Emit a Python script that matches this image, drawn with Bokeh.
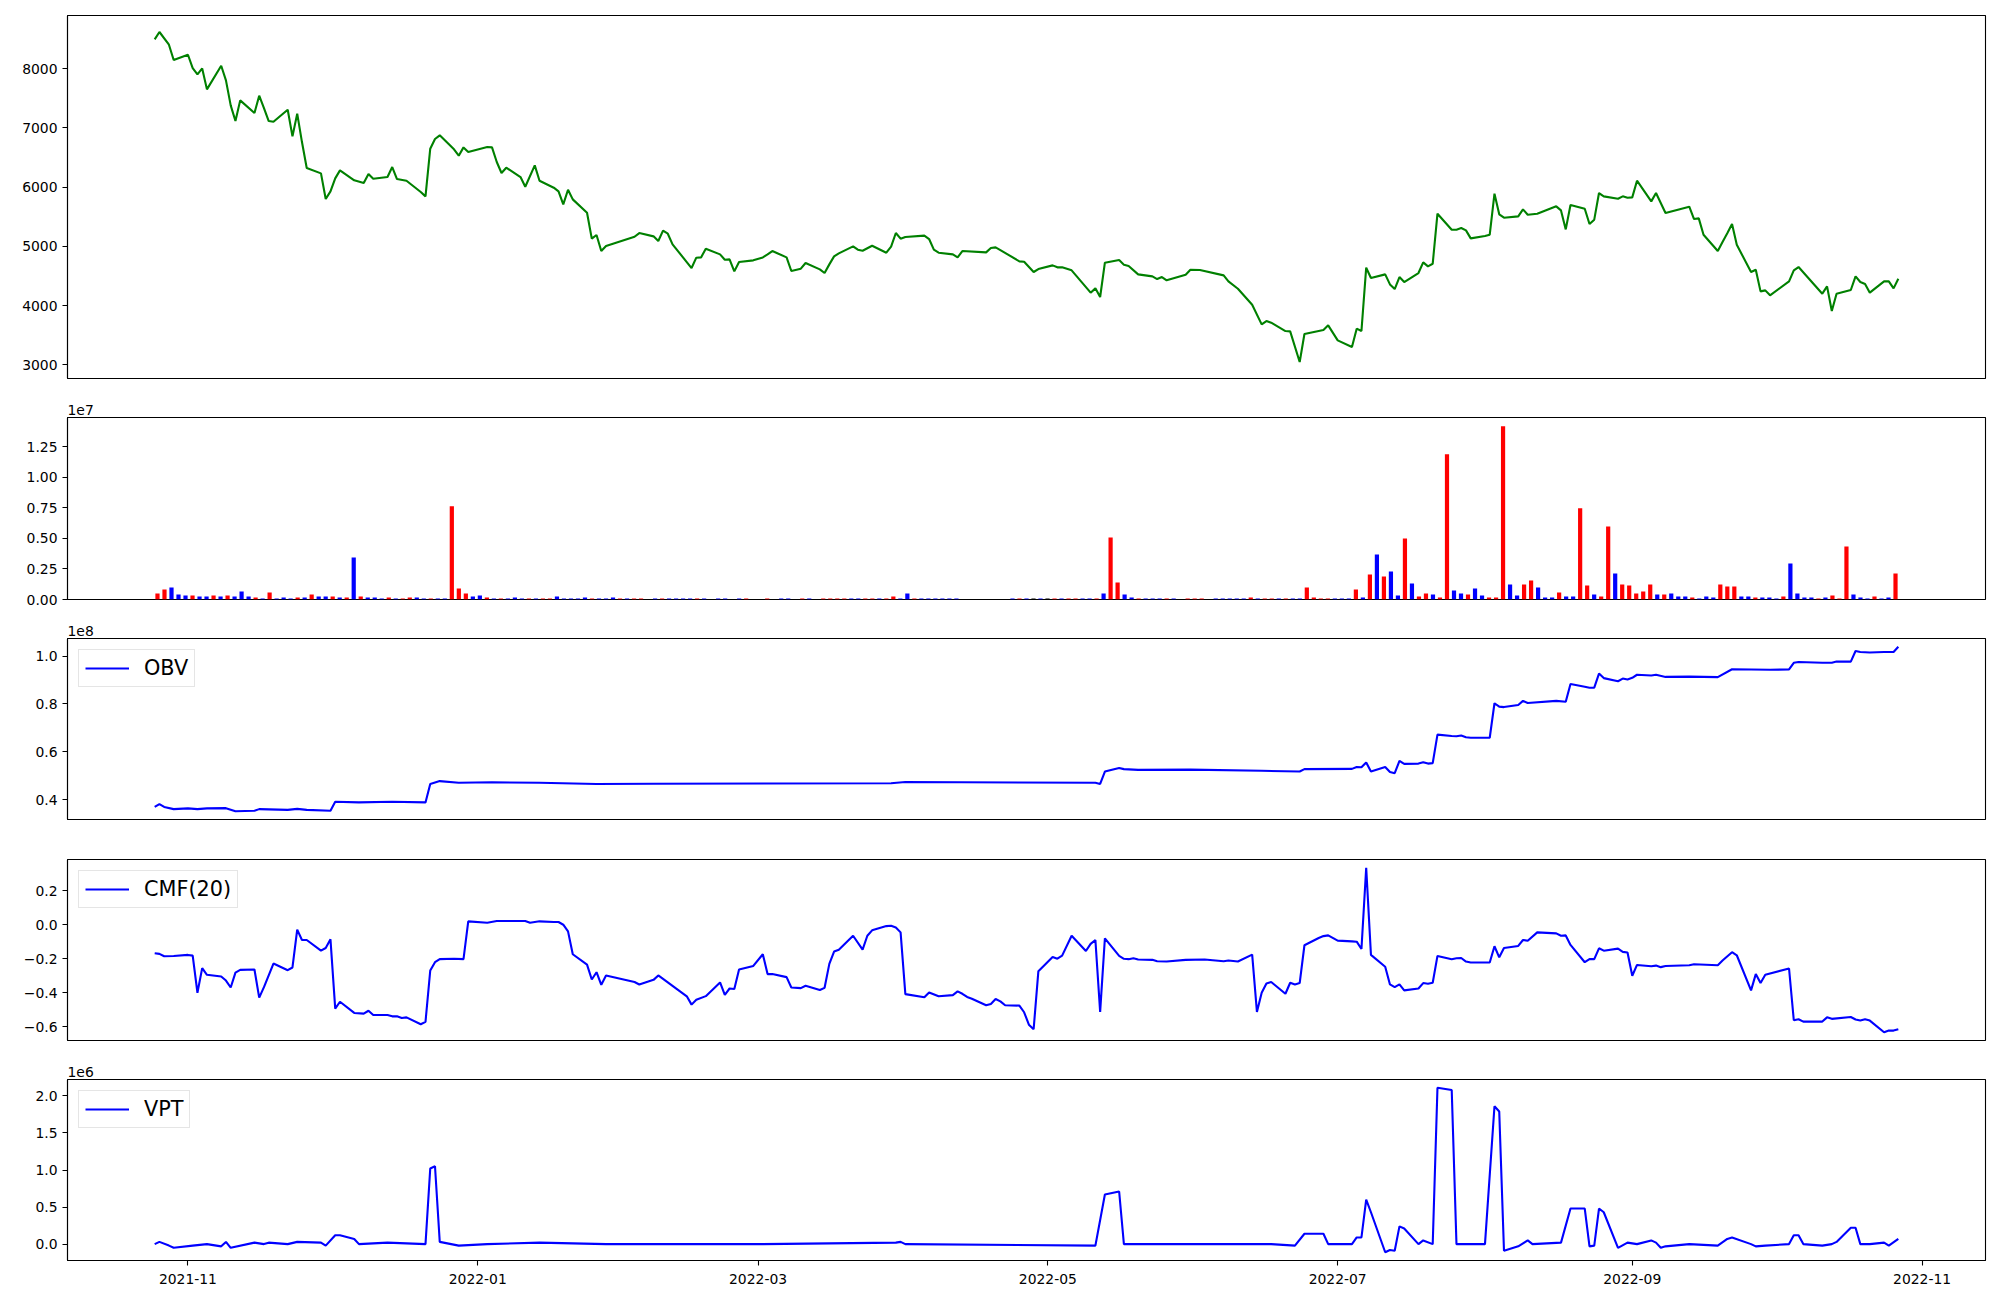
import pandas as pd
from bokeh.plotting import figure
from bokeh.layouts import column
from bokeh.models import (Range1d, FixedTicker, ColumnDataSource,
                          DatetimeTickFormatter, CustomJSTickFormatter)
from bokeh.embed import file_html
from bokeh.resources import INLINE

# ---------------- data ----------------
price_dates = """
2021-10-25 2021-10-26 2021-10-28 2021-10-29
2021-11-01 2021-11-02 2021-11-03 2021-11-04 2021-11-05 2021-11-08 2021-11-09 2021-11-10 2021-11-11 2021-11-12 2021-11-15 2021-11-16 2021-11-17 2021-11-18 2021-11-19 2021-11-22 2021-11-23 2021-11-24 2021-11-25 2021-11-26 2021-11-29 2021-11-30
2021-12-01 2021-12-02 2021-12-03 2021-12-06 2021-12-08 2021-12-09 2021-12-10 2021-12-13 2021-12-14 2021-12-15 2021-12-17 2021-12-20 2021-12-21 2021-12-22 2021-12-23 2021-12-24 2021-12-27 2021-12-28 2021-12-29 2021-12-30
2022-01-03 2022-01-04 2022-01-05 2022-01-06 2022-01-07 2022-01-10 2022-01-11 2022-01-13 2022-01-14 2022-01-17 2022-01-18 2022-01-19 2022-01-20 2022-01-21 2022-01-24 2022-01-25 2022-01-26 2022-01-27 2022-01-28
2022-02-03 2022-02-04 2022-02-07 2022-02-08 2022-02-09 2022-02-10 2022-02-11 2022-02-15 2022-02-16 2022-02-17 2022-02-18 2022-02-21 2022-02-22 2022-02-23 2022-02-24 2022-02-25 2022-02-28
2022-03-02 2022-03-03 2022-03-04 2022-03-07 2022-03-08 2022-03-10 2022-03-11 2022-03-14 2022-03-15 2022-03-16 2022-03-17 2022-03-18 2022-03-21 2022-03-22 2022-03-23 2022-03-25 2022-03-28 2022-03-29 2022-03-30 2022-03-31
2022-04-01 2022-04-05 2022-04-06 2022-04-07 2022-04-08 2022-04-11 2022-04-12 2022-04-13 2022-04-18 2022-04-19 2022-04-20 2022-04-21 2022-04-25 2022-04-26 2022-04-28 2022-04-29
2022-05-02 2022-05-03 2022-05-04 2022-05-06 2022-05-10 2022-05-11 2022-05-12 2022-05-13 2022-05-16 2022-05-17 2022-05-18 2022-05-20 2022-05-23 2022-05-24 2022-05-25 2022-05-26 2022-05-30 2022-05-31
2022-06-02 2022-06-07 2022-06-08 2022-06-10 2022-06-13 2022-06-15 2022-06-16 2022-06-17 2022-06-20 2022-06-21 2022-06-23 2022-06-24 2022-06-28 2022-06-29
2022-07-01 2022-07-04 2022-07-05 2022-07-06 2022-07-07 2022-07-08 2022-07-11 2022-07-12 2022-07-13 2022-07-14 2022-07-15 2022-07-18 2022-07-19 2022-07-20 2022-07-21 2022-07-22 2022-07-25 2022-07-26 2022-07-27 2022-07-28 2022-07-29
2022-08-01 2022-08-02 2022-08-03 2022-08-04 2022-08-05 2022-08-08 2022-08-09 2022-08-10 2022-08-12 2022-08-16 2022-08-17 2022-08-18 2022-08-19 2022-08-22 2022-08-23 2022-08-24 2022-08-25 2022-08-26 2022-08-29 2022-08-30 2022-08-31
2022-09-01 2022-09-02 2022-09-05 2022-09-06 2022-09-08 2022-09-13 2022-09-14 2022-09-15 2022-09-16 2022-09-19 2022-09-20 2022-09-21 2022-09-22 2022-09-23 2022-09-26 2022-09-27 2022-09-28 2022-09-29 2022-09-30
2022-10-04 2022-10-05 2022-10-06 2022-10-11 2022-10-12 2022-10-13 2022-10-14 2022-10-17 2022-10-18 2022-10-19 2022-10-20 2022-10-21 2022-10-24 2022-10-25 2022-10-26 2022-10-27
""".split()
price_close = [
    8495, 8620, 8405, 8146,
    8236, 8011, 7904, 8005, 7651, 8050, 7803, 7381, 7116, 7465, 7251, 7544, 7336, 7116, 7105, 7307, 6857, 7240, 6761, 6322, 6232, 5799,
    5928, 6148, 6283, 6114, 6069, 6221, 6142, 6170, 6339, 6136, 6108, 5917, 5844, 6649, 6812, 6874, 6638, 6531, 6671, 6593,
    6677, 6671, 6424, 6238, 6328, 6170, 6007, 6367, 6108, 5990, 5928, 5709, 5956, 5793, 5568, 5129, 5191, 4920, 5005,
    5162, 5224, 5168, 5089, 5264, 5213, 5033, 4633, 4808, 4813, 4960, 4864, 4774, 4780, 4577, 4735, 4763,
    4813, 4864, 4920, 4813, 4583, 4622, 4718, 4611, 4549, 4695, 4830, 4881, 5000, 4943, 4926, 5010, 4892, 4994, 5225, 5129,
    5157, 5180, 5123, 4943, 4892, 4864, 4813, 4920, 4898, 4971, 4982, 4937, 4746, 4740, 4566, 4616,
    4678, 4645, 4645, 4594, 4217, 4290, 4144, 4723, 4768, 4690, 4667, 4526, 4492, 4447, 4481, 4425, 4521, 4605,
    4600, 4509, 4408, 4284, 4014, 3682, 3738, 3710, 3569, 3564, 3046, 3519, 3586, 3665,
    3412, 3299, 3609, 3569, 4639, 4464, 4526, 4357, 4278, 4481, 4397, 4549, 4729, 4662, 4706, 5551, 5281, 5281, 5309, 5269, 5134,
    5174, 5196, 5889, 5540, 5483, 5506, 5624, 5534, 5551, 5675, 5607, 5286, 5697, 5635, 5376, 5450, 5900, 5844, 5804, 5844, 5821,
    5827, 6108, 5759, 5900, 5562, 5669, 5461, 5472, 5196, 4920, 5073, 5219, 5376, 5027, 4566, 4605, 4239, 4256, 4172,
    4408, 4594, 4650, 4200, 4324, 3907, 4200, 4262, 4492, 4397, 4363, 4217, 4408, 4408, 4290, 4453,
]

# daily volume, millions of shares, one bar per trading day (index axis)
volume_m = [
    0.49, 0.82, 0.98, 0.41, 0.33, 0.33, 0.25, 0.25, 0.33, 0.25,
    0.33, 0.25, 0.66, 0.25, 0.16, 0.08, 0.57, 0.08, 0.16, 0.08,
    0.16, 0.16, 0.41, 0.25, 0.25, 0.25, 0.16, 0.16, 3.44, 0.25,
    0.16, 0.16, 0.08, 0.16, 0.08, 0.08, 0.16, 0.16, 0.08, 0.08,
    0.08, 0.08, 7.62, 0.90, 0.49, 0.25, 0.33, 0.16, 0.08, 0.08,
    0.08, 0.16, 0.08, 0.08, 0.08, 0.08, 0.08, 0.25, 0.08, 0.08,
    0.08, 0.16, 0.08, 0.08, 0.08, 0.16, 0.08, 0.08, 0.08, 0.08,
    0.00, 0.08, 0.08, 0.08, 0.08, 0.08, 0.08, 0.08, 0.08, 0.00,
    0.08, 0.08, 0.00, 0.08, 0.08, 0.00, 0.00, 0.08, 0.00, 0.08,
    0.08, 0.00, 0.08, 0.08, 0.00, 0.08, 0.08, 0.08, 0.08, 0.08,
    0.08, 0.08, 0.08, 0.08, 0.08, 0.25, 0.08, 0.49, 0.08, 0.08,
    0.08, 0.08, 0.08, 0.08, 0.08, 0.00, 0.00, 0.00, 0.00, 0.00,
    0.00, 0.00, 0.08, 0.08, 0.08, 0.08, 0.08, 0.08, 0.08, 0.08,
    0.08, 0.08, 0.08, 0.08, 0.08, 0.49, 5.08, 1.39, 0.41, 0.16,
    0.08, 0.08, 0.08, 0.08, 0.08, 0.08, 0.00, 0.08, 0.08, 0.08,
    0.00, 0.08, 0.08, 0.08, 0.08, 0.08, 0.16, 0.08, 0.08, 0.08,
    0.08, 0.08, 0.08, 0.08, 0.98, 0.16, 0.08, 0.08, 0.08, 0.08,
    0.08, 0.82, 0.16, 2.05, 3.69, 1.89, 2.30, 0.33, 5.00, 1.31,
    0.25, 0.49, 0.41, 0.16, 11.89, 0.74, 0.49, 0.41, 0.90, 0.33,
    0.16, 0.16, 14.18, 1.23, 0.33, 1.23, 1.56, 0.98, 0.16, 0.16,
    0.57, 0.25, 0.25, 7.46, 1.15, 0.41, 0.25, 5.98, 2.13, 1.23,
    1.15, 0.49, 0.66, 1.23, 0.41, 0.41, 0.49, 0.25, 0.25, 0.16,
    0.08, 0.25, 0.16, 1.23, 1.07, 1.07, 0.25, 0.25, 0.16, 0.16,
    0.16, 0.08, 0.25, 2.95, 0.49, 0.16, 0.16, 0.08, 0.16, 0.33,
    0.08, 4.34, 0.41, 0.16, 0.08, 0.25, 0.08, 0.16, 2.13,
]
# u = up day, d = down day, f = flat
volume_dir = "".join("""
uuddduddud udddududdd ududdududu ddduduuddu dduuuddudu
ddduduuddd dduddduduu fduddddudf ddfduffufd dfudfuuuud
duuduuddud dddddfffff ffdudfdfud uudduduudd udddudfuuu
fddddduduu dudduuuudd dudududdud uuduuddudd uuudduuddd
udduuduudu uuuududddu ddduuuddud dduddddudu uuddduddu
""".split())

obv_dates = """
2021-10-25 2021-10-26 2021-10-27 2021-10-29 2021-11-01 2021-11-03 2021-11-05 2021-11-09 2021-11-11 2021-11-15 2021-11-16 2021-11-22 2021-11-24 2021-11-26
2021-12-01 2021-12-02 2021-12-07 2021-12-14 2021-12-21 2021-12-22 2021-12-24 2021-12-28 2022-01-04 2022-01-14 2022-01-26 2022-02-07 2022-03-29 2022-04-01
2022-05-11 2022-05-12 2022-05-13 2022-05-16 2022-05-17 2022-05-20 2022-05-31 2022-06-15 2022-06-23 2022-06-24
2022-07-04 2022-07-05 2022-07-06 2022-07-07 2022-07-08 2022-07-11 2022-07-12 2022-07-13 2022-07-14 2022-07-15 2022-07-18 2022-07-19 2022-07-20 2022-07-21 2022-07-22 2022-07-25 2022-07-26 2022-07-27 2022-07-28 2022-07-29
2022-08-02 2022-08-03 2022-08-04 2022-08-05 2022-08-08 2022-08-09 2022-08-10 2022-08-16 2022-08-18 2022-08-19 2022-08-22 2022-08-23 2022-08-24 2022-08-25 2022-08-26 2022-08-29 2022-08-30 2022-08-31
2022-09-01 2022-09-02 2022-09-05 2022-09-06 2022-09-08 2022-09-13 2022-09-19 2022-09-22 2022-09-26 2022-09-30
2022-10-04 2022-10-05 2022-10-06 2022-10-11 2022-10-13 2022-10-14 2022-10-17 2022-10-18 2022-10-19 2022-10-21 2022-10-24 2022-10-26 2022-10-27
""".split()
obv_m = [
    37.0, 38.2, 37.0, 36.1, 36.4, 36.1, 36.4, 36.5, 35.2, 35.4, 36.1, 35.8, 36.2, 35.8,
    35.4, 39.2, 38.9, 39.2, 38.9, 46.6, 47.8, 47.1, 47.3, 47.1, 46.6, 46.7, 46.9, 47.4,
    47.1, 46.6, 51.8, 53.3, 52.8, 52.5, 52.6, 52.1, 51.8, 52.8,
    52.9, 53.7, 53.6, 55.6, 51.8, 53.7, 51.6, 51.1, 56.2, 55.0, 55.1, 55.7, 55.1, 55.3, 67.2, 66.6, 66.5, 66.8, 66.1, 65.9,
    65.9, 80.3, 78.9, 78.7, 79.6, 81.3, 80.4, 81.3, 80.9, 88.3, 87.2, 86.8, 86.8, 92.7, 90.8, 89.5, 90.6, 90.2,
    90.9, 92.2, 91.9, 92.2, 91.3, 91.4, 91.2, 94.5, 94.4, 94.3,
    94.4, 97.2, 97.5, 97.2, 97.2, 97.7, 97.7, 102.1, 101.7, 101.5, 101.7, 101.7, 103.9,
]

cmf_dates = """
2021-10-25 2021-10-26 2021-10-27 2021-10-29 2021-11-01 2021-11-02 2021-11-03 2021-11-04 2021-11-05 2021-11-08 2021-11-09 2021-11-10 2021-11-11 2021-11-12 2021-11-15 2021-11-16 2021-11-17 2021-11-19 2021-11-22 2021-11-23 2021-11-24 2021-11-25 2021-11-26 2021-11-29 2021-11-30
2021-12-01 2021-12-02 2021-12-03 2021-12-06 2021-12-08 2021-12-09 2021-12-10 2021-12-13 2021-12-14 2021-12-15 2021-12-16 2021-12-17 2021-12-20 2021-12-21 2021-12-22 2021-12-23 2021-12-24 2021-12-27 2021-12-29 2021-12-30
2022-01-03 2022-01-05 2022-01-11 2022-01-12 2022-01-14 2022-01-17 2022-01-18 2022-01-19 2022-01-20 2022-01-21 2022-01-24 2022-01-25 2022-01-26 2022-01-27 2022-01-28
2022-02-03 2022-02-04 2022-02-07 2022-02-08 2022-02-11 2022-02-14 2022-02-15 2022-02-16 2022-02-18 2022-02-21 2022-02-22 2022-02-23 2022-02-24 2022-02-25 2022-02-28
2022-03-02 2022-03-03 2022-03-04 2022-03-07 2022-03-08 2022-03-10 2022-03-11 2022-03-14 2022-03-15 2022-03-16 2022-03-17 2022-03-18 2022-03-21 2022-03-23 2022-03-24 2022-03-25 2022-03-28 2022-03-29 2022-03-30 2022-03-31
2022-04-01 2022-04-05 2022-04-06 2022-04-08 2022-04-11 2022-04-12 2022-04-13 2022-04-14 2022-04-15 2022-04-18 2022-04-19 2022-04-20 2022-04-21 2022-04-22 2022-04-25 2022-04-26 2022-04-27 2022-04-28 2022-04-29
2022-05-02 2022-05-03 2022-05-04 2022-05-06 2022-05-09 2022-05-10 2022-05-11 2022-05-12 2022-05-13 2022-05-16 2022-05-17 2022-05-18 2022-05-19 2022-05-20 2022-05-23 2022-05-24 2022-05-26 2022-05-30
2022-06-03 2022-06-07 2022-06-08 2022-06-10 2022-06-13 2022-06-14 2022-06-15 2022-06-16 2022-06-17 2022-06-20 2022-06-21 2022-06-22 2022-06-23 2022-06-24 2022-06-27 2022-06-28 2022-06-29
2022-07-01 2022-07-04 2022-07-05 2022-07-06 2022-07-07 2022-07-08 2022-07-11 2022-07-12 2022-07-13 2022-07-14 2022-07-15 2022-07-18 2022-07-19 2022-07-20 2022-07-21 2022-07-22 2022-07-25 2022-07-26 2022-07-27 2022-07-28 2022-07-29
2022-08-02 2022-08-03 2022-08-04 2022-08-05 2022-08-08 2022-08-09 2022-08-10 2022-08-12 2022-08-16 2022-08-17 2022-08-18 2022-08-19 2022-08-22 2022-08-23 2022-08-24 2022-08-25 2022-08-26 2022-08-29 2022-08-30 2022-08-31
2022-09-01 2022-09-02 2022-09-05 2022-09-06 2022-09-07 2022-09-08 2022-09-13 2022-09-14 2022-09-19 2022-09-20 2022-09-22 2022-09-23 2022-09-26 2022-09-27 2022-09-28 2022-09-29
2022-10-04 2022-10-05 2022-10-06 2022-10-07 2022-10-11 2022-10-12 2022-10-13 2022-10-17 2022-10-18 2022-10-19 2022-10-20 2022-10-21 2022-10-24 2022-10-25 2022-10-26 2022-10-27
""".split()
cmf_20 = [
    -0.168, -0.172, -0.186, -0.184, -0.178, -0.182, -0.401, -0.256, -0.295, -0.305, -0.329, -0.370, -0.282, -0.266, -0.264, -0.430, -0.368, -0.229, -0.268, -0.252, -0.029, -0.090, -0.090, -0.153, -0.137,
    -0.086, -0.495, -0.454, -0.520, -0.524, -0.507, -0.532, -0.532, -0.540, -0.540, -0.550, -0.546, -0.587, -0.573, -0.270, -0.221, -0.203, -0.201, -0.203, 0.020,
    0.012, 0.022, 0.022, 0.012, 0.020, 0.016, 0.016, 0.000, -0.039, -0.174, -0.235, -0.323, -0.280, -0.354, -0.299,
    -0.338, -0.352, -0.325, -0.299, -0.360, -0.422, -0.471, -0.442, -0.421, -0.340, -0.413, -0.376, -0.379, -0.264, -0.243,
    -0.174, -0.291, -0.291, -0.309, -0.370, -0.374, -0.360, -0.385, -0.372, -0.231, -0.158, -0.147, -0.065, -0.147, -0.065, -0.033, -0.008, -0.006, -0.016, -0.045,
    -0.409, -0.428, -0.399, -0.422, -0.415, -0.393, -0.407, -0.426, -0.436, -0.475, -0.467, -0.438, -0.452, -0.475, -0.477, -0.516, -0.589, -0.616, -0.274,
    -0.190, -0.200, -0.182, -0.065, -0.155, -0.113, -0.090, -0.514, -0.080, -0.184, -0.201, -0.203, -0.198, -0.205, -0.207, -0.215, -0.217, -0.207,
    -0.205, -0.215, -0.211, -0.217, -0.176, -0.514, -0.401, -0.346, -0.338, -0.407, -0.342, -0.352, -0.344, -0.121, -0.078, -0.067, -0.063,
    -0.094, -0.098, -0.100, -0.143, 0.336, -0.178, -0.248, -0.352, -0.368, -0.352, -0.387, -0.376, -0.344, -0.348, -0.342, -0.184, -0.203, -0.198, -0.196, -0.217, -0.223,
    -0.223, -0.127, -0.192, -0.137, -0.125, -0.090, -0.094, -0.045, -0.051, -0.065, -0.063, -0.119, -0.221, -0.203, -0.203, -0.139, -0.153, -0.141, -0.160, -0.164,
    -0.301, -0.237, -0.245, -0.241, -0.250, -0.243, -0.239, -0.233, -0.239, -0.211, -0.162, -0.180, -0.387, -0.291, -0.344, -0.295,
    -0.258, -0.563, -0.557, -0.571, -0.571, -0.546, -0.555, -0.544, -0.559, -0.565, -0.557, -0.565, -0.634, -0.624, -0.624, -0.616,
]

vpt_dates = """
2021-10-25 2021-10-26 2021-10-28 2021-10-29 2021-11-02 2021-11-05 2021-11-08 2021-11-09 2021-11-10 2021-11-15 2021-11-17 2021-11-18 2021-11-22 2021-11-24 2021-11-29 2021-11-30
2021-12-02 2021-12-03 2021-12-06 2021-12-07 2021-12-13 2021-12-21 2021-12-22 2021-12-23 2021-12-24 2021-12-28
2022-01-03 2022-01-14 2022-01-28 2022-03-02 2022-03-30 2022-03-31 2022-04-01 2022-05-11 2022-05-13 2022-05-16 2022-05-17 2022-06-17 2022-06-22 2022-06-24 2022-06-28 2022-06-29
2022-07-04 2022-07-05 2022-07-06 2022-07-07 2022-07-08 2022-07-11 2022-07-12 2022-07-13 2022-07-14 2022-07-15 2022-07-18 2022-07-19 2022-07-21 2022-07-22 2022-07-25 2022-07-26
2022-08-01 2022-08-03 2022-08-04 2022-08-05 2022-08-08 2022-08-10 2022-08-11 2022-08-17 2022-08-19 2022-08-22 2022-08-23 2022-08-24 2022-08-25 2022-08-26 2022-08-29 2022-08-31
2022-09-02 2022-09-05 2022-09-06 2022-09-07 2022-09-08 2022-09-13 2022-09-19 2022-09-21 2022-09-22 2022-09-26 2022-09-27 2022-09-29
2022-10-04 2022-10-05 2022-10-06 2022-10-07 2022-10-11 2022-10-13 2022-10-14 2022-10-17 2022-10-18 2022-10-19 2022-10-21 2022-10-24 2022-10-25 2022-10-27
""".split()
vpt_m = [
    0.00, 0.03, -0.02, -0.05, -0.02, 0.00, -0.03, 0.03, -0.05, 0.02, 0.00, 0.02, 0.00, 0.03, 0.02, -0.02,
    0.12, 0.12, 0.07, 0.00, 0.02, 0.00, 1.02, 1.05, 0.03, -0.02,
    0.00, 0.02, 0.00, 0.00, 0.02, 0.03, 0.00, -0.02, 0.67, 0.71, 0.00, 0.00, -0.02, 0.14, 0.14, 0.00,
    0.00, 0.09, 0.09, 0.60, 0.43, -0.11, -0.08, -0.09, 0.24, 0.21, 0.00, 0.05, 0.00, 2.11, 2.08, 0.00,
    0.00, 1.86, 1.79, -0.09, -0.03, 0.05, 0.00, 0.02, 0.48, 0.48, -0.03, -0.02, 0.48, 0.43, -0.05, 0.02,
    0.00, 0.05, 0.02, -0.05, -0.03, 0.00, -0.02, 0.07, 0.09, 0.00, -0.03, -0.02,
    0.00, 0.12, 0.12, 0.00, -0.02, 0.00, 0.03, 0.22, 0.22, 0.00, 0.00, 0.02, -0.02, 0.07,
]

price_ticks = [3000, 4000, 5000, 6000, 7000, 8000]
volume_ticks_m = [0, 2.5, 5.0, 7.5, 10.0, 12.5]
obv_ticks_m = [40, 60, 80, 100]
cmf_ticks = [-0.6, -0.4, -0.2, 0.0, 0.2]
vpt_ticks_m = [0.0, 0.5, 1.0, 1.5, 2.0]
date_ticks = ["2021-11-01", "2022-01-01", "2022-03-01", "2022-05-01",
              "2022-07-01", "2022-09-01", "2022-11-01"]

assert len(price_dates) == len(price_close)
assert len(volume_m) == len(volume_dir)
assert len(obv_dates) == len(obv_m)
assert len(cmf_dates) == len(cmf_20)
assert len(vpt_dates) == len(vpt_m)

# ---------------- helpers ----------------
FONT = "DejaVu Sans"
TICK_SIZE = "13.9px"
M = 1e6


def padded(lo, hi, frac=0.05):
    d = (hi - lo) * frac
    return lo - d, hi + d


def ms(s):
    return pd.Timestamp(s).value / 1e6


def style_axis(ax):
    ax.axis_line_color = "black"
    ax.axis_line_width = 1.1
    ax.major_tick_line_color = "black"
    ax.major_tick_line_width = 1.1
    ax.major_tick_out = 5
    ax.major_tick_in = 0
    ax.minor_tick_line_color = None
    ax.major_label_text_font = FONT
    ax.major_label_text_font_size = TICK_SIZE
    ax.major_label_text_color = "black"
    ax.major_label_standoff = 5


def make_fig(height, b_top, b_bottom, x_range, y_range, x_type, show_x=False):
    p = figure(width=1992, height=height, x_range=x_range, y_range=y_range,
               x_axis_type=x_type, output_backend="svg", toolbar_location=None,
               min_border_left=67, min_border_right=7,
               min_border_top=b_top, min_border_bottom=b_bottom)
    p.grid.visible = False
    p.outline_line_color = "black"
    p.outline_line_width = 1.1
    p.outline_line_alpha = 1.0
    p.background_fill_color = "white"
    p.border_fill_color = "white"
    for ax in p.yaxis:
        style_axis(ax)
    for ax in p.xaxis:
        style_axis(ax)
        ax.visible = show_x
    return p


def offset_text(p, txt):
    p.title.text = txt
    p.title.align = "left"
    p.title.offset = 0
    p.title.standoff = 6
    p.title.text_font = FONT
    p.title.text_font_size = TICK_SIZE
    p.title.text_font_style = "normal"
    p.title.text_color = "black"


def style_legend(p):
    lg = p.legend[0]
    lg.location = "top_left"
    lg.margin = 11
    lg.padding = 6
    lg.spacing = 0
    lg.glyph_width = 44
    lg.glyph_height = 22
    lg.label_standoff = 15
    lg.label_text_font = FONT
    lg.label_text_font_size = "20.8px"
    lg.label_text_color = "black"
    lg.border_line_color = "#cccccc"
    lg.border_line_width = 1
    lg.background_fill_color = "white"
    lg.background_fill_alpha = 0.8


# shared date axis (matplotlib-style 5% margins)
d_lo, d_hi = padded(ms(price_dates[0]), ms(price_dates[-1]))
date_range = Range1d(start=d_lo, end=d_hi)

# ---------------- 1: price ----------------
pdt = pd.to_datetime(price_dates)
y0, y1 = padded(min(price_close), max(price_close))
p1 = make_fig(398, 15, 20, date_range, Range1d(y0, y1), "datetime")
p1.line(pdt, price_close, line_color="#008000", line_width=2.1)
p1.yaxis.ticker = FixedTicker(ticks=price_ticks)
p1.yaxis.formatter = CustomJSTickFormatter(code="return tick.toFixed(0);")

# ---------------- 2: volume ----------------
n = len(volume_m)
vx0, vx1 = padded(-0.4, n - 1 + 0.4)
vol_colors = {"u": "#ff0000", "d": "#0000ff", "f": "#000000"}
vsrc = ColumnDataSource(dict(x=list(range(n)), top=[v * M for v in volume_m],
                             color=[vol_colors[c] for c in volume_dir]))
p2 = make_fig(220, 19, 19, Range1d(vx0, vx1), Range1d(0, max(volume_m) * M * 1.05), "linear")
p2.vbar(x="x", top="top", bottom=0, width=0.6, fill_color="color", line_color=None, source=vsrc)
p2.yaxis.ticker = FixedTicker(ticks=[t * M for t in volume_ticks_m])
p2.yaxis.formatter = CustomJSTickFormatter(code="return (tick/1e7).toFixed(2);")
offset_text(p2, "1e7")

# ---------------- 3: OBV ----------------
o0, o1 = padded(min(obv_m) * M, max(obv_m) * M)
p3 = make_fig(221, 20, 20, date_range, Range1d(o0, o1), "datetime")
p3.line(pd.to_datetime(obv_dates), [v * M for v in obv_m], line_color="#0000ff",
        line_width=2.1, legend_label="OBV")
p3.yaxis.ticker = FixedTicker(ticks=[t * M for t in obv_ticks_m])
p3.yaxis.formatter = CustomJSTickFormatter(code="return (tick/1e8).toFixed(1);")
offset_text(p3, "1e8")
style_legend(p3)

# ---------------- 4: CMF ----------------
c0, c1 = padded(min(cmf_20), max(cmf_20))
p4 = make_fig(220, 20, 19, date_range, Range1d(c0, c1), "datetime")
p4.line(pd.to_datetime(cmf_dates), cmf_20, line_color="#0000ff", line_width=2.1,
        legend_label="CMF(20)")
p4.yaxis.ticker = FixedTicker(ticks=cmf_ticks)
p4.yaxis.formatter = CustomJSTickFormatter(
    code="var s = Math.abs(tick) < 1e-9 ? '0.0' : tick.toFixed(1); return s.replace('-', '\u2212');")
style_legend(p4)

# ---------------- 5: VPT ----------------
w0, w1 = padded(min(vpt_m) * M, max(vpt_m) * M)
p5 = make_fig(233, 20, 32, date_range, Range1d(w0, w1), "datetime", show_x=True)
p5.line(pd.to_datetime(vpt_dates), [v * M for v in vpt_m], line_color="#0000ff",
        line_width=2.1, legend_label="VPT")
p5.yaxis.ticker = FixedTicker(ticks=[t * M for t in vpt_ticks_m])
p5.yaxis.formatter = CustomJSTickFormatter(code="return (tick/1e6).toFixed(1);")
p5.xaxis.ticker = FixedTicker(ticks=[ms(d) for d in date_ticks])
p5.xaxis.formatter = DatetimeTickFormatter(days="%Y-%m", months="%Y-%m", years="%Y-%m")
p5.xaxis.major_label_standoff = 8
offset_text(p5, "1e6")
style_legend(p5)

layout = column(p1, p2, p3, p4, p5, spacing=0)
open("out.html", "w").write(file_html(layout, INLINE))
